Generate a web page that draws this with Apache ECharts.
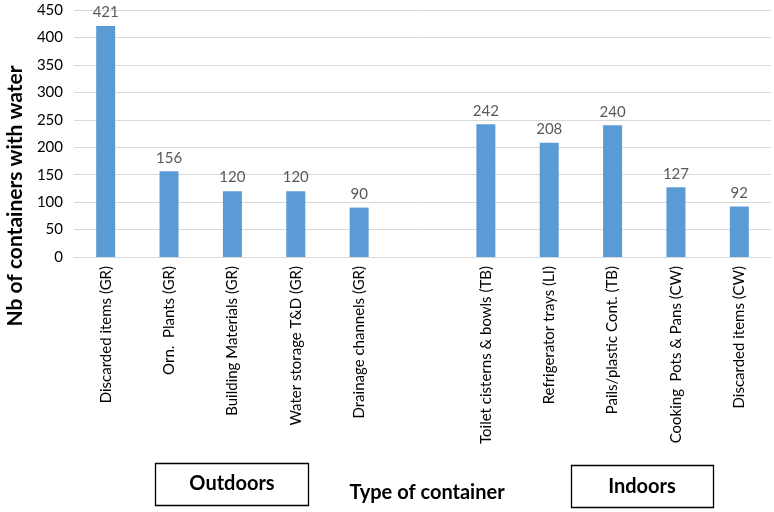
<!DOCTYPE html>
<html><head><meta charset="utf-8">
<script src="https://cdn.jsdelivr.net/npm/echarts@6/dist/echarts.min.js"></script>
<style>html,body{margin:0;padding:0;background:#fff}#c{width:774px;height:512px}</style>
</head><body><div id="c"></div>
<script>
var categories = ['Discarded items (GR)','Orn.  Plants (GR)','Building Materials (GR)','Water storage T&D (GR)','Drainage channels (GR)','','Toilet cisterns & bowls (TB)','Refrigerator trays (LI)','Pails/plastic Cont. (TB)','Cooking  Pots & Pans (CW)','Discarded items (CW)'];
var values = [421,156,120,120,90,null,242,208,240,127,92];
var yTicks = [0,50,100,150,200,250,300,350,400,450];
var font = 'Lato, "Open Sans", sans-serif';
var chart = echarts.init(document.getElementById('c'));
chart.setOption({
  animation:false,
  grid:{left:74,right:3,top:10,bottom:255,containLabel:false,outerBoundsMode:'none'},
  xAxis:{type:'category',data:categories,
    axisLine:{lineStyle:{color:'#d9d9d9'}},axisTick:{show:false},
    axisLabel:{rotate:90,interval:0,fontFamily:font,fontSize:15,color:'#000',margin:9}},
  yAxis:{type:'value',min:0,max:450,interval:50,
    axisLine:{show:false},axisTick:{show:false},
    splitLine:{lineStyle:{color:'#d9d9d9'}},
    axisLabel:{fontFamily:font,fontSize:15,color:'#000',margin:11,
      formatter:function(v){return yTicks.indexOf(v)>=0?String(v):'';}}},
  series:[{type:'bar',data:values,barWidth:19,itemStyle:{color:'#5B9BD5'},
    label:{show:true,position:'top',distance:6,fontFamily:font,fontSize:15,color:'#595959'}}],
  graphic:[
    {type:'text',x:15,y:196,rotation:Math.PI/2,style:{text:'Nb of containers with water',fontFamily:font,fontSize:21,fontWeight:'bold',fill:'#000',align:'center',verticalAlign:'middle'}},
    {type:'rect',shape:{x:155.5,y:463.5,width:153,height:42},style:{fill:'#fff',stroke:'#000',lineWidth:1.3}},
    {type:'text',x:232,y:484,style:{text:'Outdoors',fontFamily:font,fontSize:20,fontWeight:'bold',fill:'#000',align:'center',verticalAlign:'middle'}},
    {type:'rect',shape:{x:571.5,y:465.5,width:142,height:42},style:{fill:'#fff',stroke:'#000',lineWidth:1.3}},
    {type:'text',x:642,y:487,style:{text:'Indoors',fontFamily:font,fontSize:20,fontWeight:'bold',fill:'#000',align:'center',verticalAlign:'middle'}},
    {type:'text',x:427,y:493,style:{text:'Type of container',fontFamily:font,fontSize:20,fontWeight:'bold',fill:'#000',align:'center',verticalAlign:'middle'}}
  ]
});
</script></body></html>
